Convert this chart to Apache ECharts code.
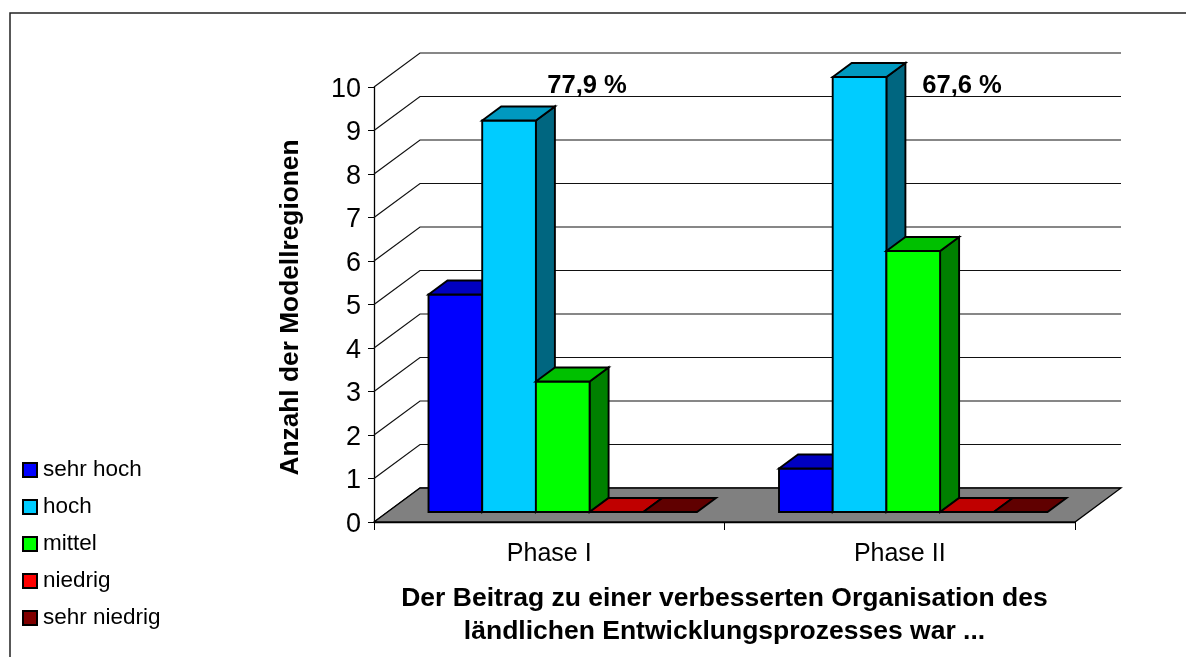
<!DOCTYPE html>
<html>
<head>
<meta charset="utf-8">
<style>html,body{margin:0;padding:0;background:#fff}#c{width:1186px;height:657px}</style>
<script src="https://cdn.jsdelivr.net/npm/echarts@6/dist/echarts.min.js"></script>
</head>
<body>
<div id="c"></div>
<script>
const categories = ['Phase I', 'Phase II'];
const yTicks = [0, 1, 2, 3, 4, 5, 6, 7, 8, 9, 10];
const sehrHoch = [5, 1];
const hoch = [9, 10];
const mittel = [3, 6];
const niedrig = [0, 0];
const sehrNiedrig = [0, 0];
const annotations = ['77,9 %', '67,6 %'];
const yAxisTitle = 'Anzahl der Modellregionen';
const xAxisTitle = 'Der Beitrag zu einer verbesserten Organisation des\nländlichen Entwicklungsprozesses war ...';

const FONT = '"Liberation Sans", Arial, sans-serif';
const WALL_DX = 46, WALL_DY = -34;      // depth of the chart box
const BASE_DX = 13.5, BASE_DY = -10;    // front plane of the bars
const BAR_DX = 19, BAR_DY = -14;        // depth of a bar
const BAR_FRAC = 0.1532;                // bar width as a share of a category band
const STROKE = '#000';

const seriesDefs = [
  { name: 'sehr hoch',    values: sehrHoch,    front: '#0000FF', top: '#0000C0', side: '#000080' },
  { name: 'hoch',         values: hoch,        front: '#00CCFF', top: '#0099C0', side: '#006680' },
  { name: 'mittel',       values: mittel,      front: '#00FF00', top: '#00C000', side: '#008000' },
  { name: 'niedrig',      values: niedrig,     front: '#FF0000', top: '#C00000', side: '#800000' },
  { name: 'sehr niedrig', values: sehrNiedrig, front: '#800000', top: '#600000', side: '#400000' }
];

function poly(points, fill, lw) {
  return { type: 'polygon', shape: { points }, style: { fill, stroke: STROKE, lineWidth: lw || 1.9 } };
}

function wallItem(params, api) {
  const cs = params.coordSys;
  const y = api.coord([0, api.value(0)])[1];
  const x0 = cs.x, x1 = cs.x + cs.width;
  return {
    type: 'polyline',
    shape: { points: [[x0, y], [x0 + WALL_DX, y + WALL_DY], [x1 + WALL_DX, y + WALL_DY]] },
    style: { fill: null, stroke: '#111', lineWidth: 1.2 }
  };
}

function floorItem(params, api) {
  const cs = params.coordSys;
  const y = api.coord([0, 0])[1];
  const x0 = cs.x, x1 = cs.x + cs.width;
  return poly([[x0, y], [x1, y], [x1 + WALL_DX, y + WALL_DY], [x0 + WALL_DX, y + WALL_DY]], '#808080', 1.3);
}

function barRenderer(idx, def) {
  return function (params, api) {
    const p = api.coord([api.value(0), api.value(1)]);
    const base = api.coord([api.value(0), 0]);
    const w = api.size([1, 0])[0] * BAR_FRAC;
    const xl = p[0] + BASE_DX + (idx - 2.5) * w;
    const xr = xl + w;
    const yt = p[1] + BASE_DY;
    const yb = base[1] + BASE_DY;
    const children = [];
    if (yb - yt > 0.5) {
      children.push(poly([[xr, yt], [xr + BAR_DX, yt + BAR_DY], [xr + BAR_DX, yb + BAR_DY], [xr, yb]], def.side));
      children.push(poly([[xl, yt], [xr, yt], [xr, yb], [xl, yb]], def.front));
    }
    children.push(poly([[xl, yt], [xr, yt], [xr + BAR_DX, yt + BAR_DY], [xl + BAR_DX, yt + BAR_DY]], def.top));
    return { type: 'group', children };
  };
}

const series = [
  {
    type: 'custom', name: '_walls', silent: true, z: 1, legendHoverLink: false,
    renderItem: wallItem, data: yTicks.map(v => [v]), encode: { y: 0 }
  },
  {
    type: 'custom', name: '_floor', silent: true, z: 2, legendHoverLink: false,
    renderItem: floorItem, data: [[0, 0]], encode: { x: 0, y: 1 }
  }
].concat(seriesDefs.map((def, i) => ({
  type: 'custom',
  name: def.name,
  z: 3 + i,
  renderItem: barRenderer(i, def),
  itemStyle: { color: def.front, borderColor: STROKE, borderWidth: 1.6 },
  data: def.values.map((v, c) => [c, v]),
  encode: { x: 0, y: 1 }
})));

const chart = echarts.init(document.getElementById('c'), null, { renderer: 'canvas' });
chart.setOption({
  animation: false,
  backgroundColor: '#fff',
  textStyle: { fontFamily: FONT, color: '#000' },
  grid: { left: 374, right: 111, top: 87, bottom: 135 },
  legend: {
    orient: 'vertical', left: 17, top: 453,
    itemWidth: 14, itemHeight: 14, itemGap: 13,
    icon: 'rect',
    selectedMode: false,
    data: seriesDefs.map(d => d.name),
    textStyle: { fontFamily: FONT, fontSize: 22.5, color: '#000', padding: [0, 0, 0, 1], lineHeight: 24 }
  },
  xAxis: {
    type: 'category',
    data: categories,
    axisLine: { lineStyle: { color: '#000', width: 1.3 } },
    axisTick: { show: true, length: 8, alignWithLabel: false, lineStyle: { color: '#000', width: 1 } },
    axisLabel: { fontFamily: FONT, fontSize: 25, color: '#000', margin: 20 },
    name: xAxisTitle,
    nameLocation: 'middle',
    nameGap: 60,
    nameTextStyle: { fontFamily: FONT, fontSize: 26.5, fontWeight: 'bold', color: '#000', lineHeight: 33, verticalAlign: 'top' }
  },
  yAxis: {
    type: 'value', min: 0, max: 10, interval: 1,
    axisLine: { show: true, lineStyle: { color: '#000', width: 1.3 } },
    axisTick: { show: true, length: 6, lineStyle: { color: '#000', width: 1 } },
    splitLine: { show: false },
    axisLabel: {
      fontFamily: FONT, fontSize: 27, color: '#000', margin: 13,
      formatter: v => '{n|' + v + '}', showMinLabel: true, showMaxLabel: true,
      rich: { n: { fontFamily: FONT, fontSize: 27, color: '#000', padding: [5, 0, 0, 0] } }
    },
    name: yAxisTitle,
    nameLocation: 'middle',
    nameRotate: 90,
    nameGap: 70,
    nameTextStyle: { fontFamily: FONT, fontSize: 26.3, fontWeight: 'bold', color: '#000', padding: [0, 6, 0, 0] }
  },
  graphic: [
    { type: 'polyline', z: 0, shape: { points: [[10, 657], [10, 13], [1186, 13]] }, style: { fill: null, stroke: '#222', lineWidth: 1.5 } },
    { type: 'text', z: 50, x: 587, y: 86, style: { text: annotations[0], font: 'bold 25.6px ' + FONT, fill: '#000', align: 'center', verticalAlign: 'middle' } },
    { type: 'text', z: 50, x: 962, y: 86, style: { text: annotations[1], font: 'bold 25.6px ' + FONT, fill: '#000', align: 'center', verticalAlign: 'middle' } }
  ],
  series
});
</script>
</body>
</html>
